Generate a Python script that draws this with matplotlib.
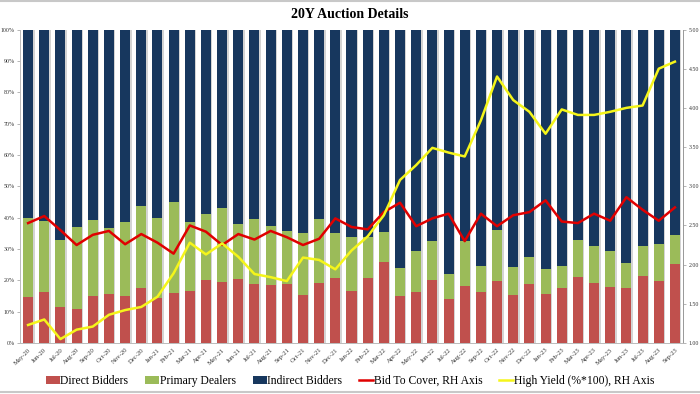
import matplotlib
matplotlib.use("Agg")
import matplotlib.pyplot as plt
from matplotlib.lines import Line2D
import numpy as np

months = ["May-20","Jun-20","Jul-20","Aug-20","Sep-20","Oct-20","Nov-20","Dec-20",
          "Jan-21","Feb-21","Mar-21","Apr-21","May-21","Jun-21","Jul-21","Aug-21",
          "Sep-21","Oct-21","Nov-21","Dec-21","Jan-22","Feb-22","Mar-22","Apr-22",
          "May-22","Jun-22","Jul-22","Aug-22","Sep-22","Oct-22","Nov-22","Dec-22",
          "Jan-23","Feb-23","Mar-23","Apr-23","May-23","Jun-23","Jul-23","Aug-23","Sep-23"]

direct = [14.8,16.4,11.6,10.8,15.1,15.5,15.1,17.6,14.2,15.8,16.7,20.1,19.3,20.3,18.8,18.5,
          18.7,15.3,19.2,20.6,16.7,20.8,25.9,15.1,16.2,20.1,13.9,18.2,16.4,19.8,15.3,18.7,
          15.5,17.6,20.9,19.0,17.9,17.4,21.4,19.9,25.1]
primary = [25.2,22.6,21.2,26.3,24.1,21.3,23.6,26.1,25.7,29.2,22.0,21.2,23.8,17.5,20.9,18.8,
           17.0,19.9,20.3,14.6,17.0,13.1,9.6,8.9,13.1,12.4,8.0,14.4,8.1,16.2,9.0,8.8,
           8.2,6.9,11.9,12.0,11.4,8.0,9.6,11.6,9.3]
indirect = [60.0,61.0,67.2,62.9,60.8,63.2,61.3,56.3,60.1,55.0,61.3,58.7,56.9,62.2,60.3,62.7,
            64.3,64.8,60.5,64.8,66.3,66.1,64.5,76.0,70.7,67.5,78.1,67.4,75.5,64.0,75.7,72.5,
            76.3,75.5,67.2,69.0,70.7,74.6,69.0,68.5,65.6]
bid_to_cover = [2.53,2.62,2.44,2.25,2.38,2.43,2.26,2.39,2.28,2.14,2.50,2.42,2.25,2.39,2.32,2.43,
                2.35,2.25,2.33,2.59,2.48,2.45,2.67,2.79,2.49,2.59,2.65,2.30,2.65,2.49,2.63,2.67,
                2.82,2.55,2.53,2.65,2.56,2.86,2.70,2.56,2.73]
high_yield = [1.23,1.30,1.05,1.17,1.21,1.36,1.42,1.46,1.59,1.89,2.28,2.13,2.27,2.10,1.88,1.84,
              1.79,2.09,2.06,1.94,2.18,2.36,2.63,3.08,3.27,3.49,3.43,3.38,3.84,4.40,4.10,3.95,
              3.67,3.98,3.91,3.91,3.95,4.00,4.03,4.50,4.59]

left_ticks = [0,10,20,30,40,50,60,70,80,90,100]
right_ticks = [1.0,1.5,2.0,2.5,3.0,3.5,4.0,4.5,5.0]

serif = ["Liberation Serif", "DejaVu Serif"]
c_direct = "#C0504D"
c_primary = "#9BBB59"
c_indirect = "#17375E"

fig = plt.figure(figsize=(7.0, 3.94), dpi=100)
ax = fig.add_axes([20/700, 1-343/394, 663/700, (343-29.5)/394])

x = np.arange(len(months))
w = 0.62
# subtle shadows
ax.bar(x + 0.09, [d+p+i for d, p, i in zip(direct, primary, indirect)], w,
       color="#d4d4d4", zorder=1)
ax.bar(x, direct, w, color=c_direct, label="Direct Bidders", zorder=2)
ax.bar(x, primary, w, bottom=direct, color=c_primary, label="Primary Dealers", zorder=2)
ax.bar(x, indirect, w, bottom=[d+p for d, p in zip(direct, primary)], color=c_indirect,
       label="Indirect Bidders", zorder=2)

ax.set_xlim(-0.5, len(months)-0.5)
ax.set_ylim(0, 100)
ax.set_yticks(left_ticks)
ax.set_yticklabels([f"{t}%" for t in left_ticks], fontsize=4.2, family=serif, color="#333333")
ax.set_xticks(x)
ax.set_xticklabels(months, rotation=45, ha="right", rotation_mode="anchor",
                   fontsize=4.8, family=serif, color="#333333")
ax.tick_params(axis="x", length=0, pad=3)
ax.tick_params(axis="y", length=2, width=0.5, color="#999999", pad=2)

ax2 = ax.twinx()
l1, = ax2.plot(x, bid_to_cover, color="#E00000", lw=1.8, label="Bid To Cover, RH Axis", zorder=5)
l2, = ax2.plot(x, high_yield, color="#F5F51A", lw=1.8, label="High Yield (%*100), RH Axis", zorder=5)
ax2.set_ylim(1, 5)
ax2.set_yticks(right_ticks)
ax2.set_yticklabels([f"{t:.2f}" for t in right_ticks], fontsize=4.2, family=serif, color="#333333")
ax2.tick_params(axis="y", length=2, width=0.5, color="#999999", pad=2)

for a in (ax, ax2):
    a.spines["top"].set_visible(False)
    a.spines["left"].set_color("#bbbbbb")
    a.spines["right"].set_color("#999999")
    a.spines["bottom"].set_color("#bbbbbb")
    for s in ("left", "right", "bottom"):
        a.spines[s].set_linewidth(0.6)

fig.text(0.5, 1-15/394, "20Y Auction Details", ha="center", va="center",
         fontsize=10, fontweight="bold", family=serif)

h1, lab1 = ax.get_legend_handles_labels()
leg = fig.legend(h1 + [l1, l2], lab1 + [l1.get_label(), l2.get_label()],
                 loc="center", bbox_to_anchor=(0.5, 1-381/394), ncol=5, frameon=False,
                 prop={"family": serif, "size": 8.4}, handlelength=1.2, handleheight=0.6,
                 handletextpad=0.05, columnspacing=1.45)

fig.add_artist(Line2D([0, 1], [1-1/394, 1-1/394], color="#c8c8c8", lw=1.5, transform=fig.transFigure))
fig.add_artist(Line2D([0, 1], [2/394, 2/394], color="#c8c8c8", lw=1.5, transform=fig.transFigure))

fig.savefig("out.png", dpi=100)
